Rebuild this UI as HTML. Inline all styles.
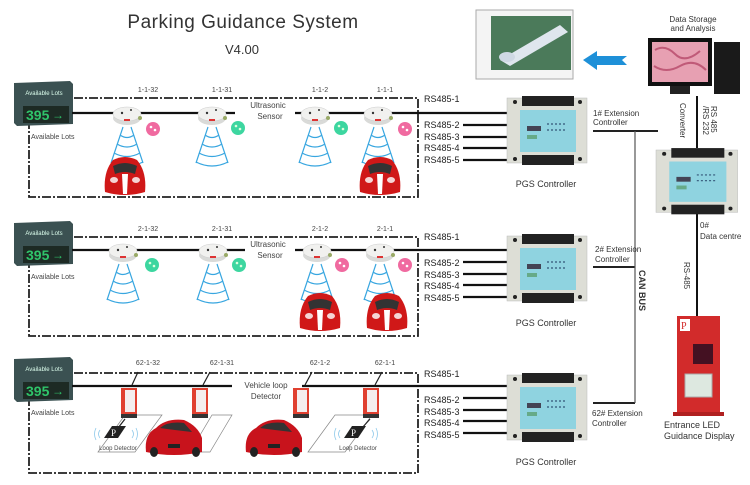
<!DOCTYPE html>
<html><head><meta charset="utf-8"><style>
html,body{margin:0;padding:0;background:#fff;}
svg{display:block;font-family:"Liberation Sans",Arial,sans-serif;}
</style></head><body>
<svg width="750" height="485" viewBox="0 0 750 485" xmlns="http://www.w3.org/2000/svg">
<defs>
  <g id="panel">
    <polygon points="14,83 70,81 73,84 73,124 17,126 14,123" fill="#3b5152"/>
    <rect x="23" y="106" width="46" height="17" fill="#1d2a24"/>
    <text x="44" y="95" font-size="6" fill="#dfe" text-anchor="middle">Available Lots</text>
    <text x="26" y="120" font-size="14" font-weight="bold" fill="#2fc46a">395</text>
    <text x="52" y="119" font-size="12" fill="#2fc46a">→</text>
    <text x="31" y="139" font-size="7" fill="#444">Available Lots</text>
  </g>
  <g id="sensor">
    <ellipse cx="0" cy="5" rx="14" ry="7" fill="#d9dad8"/>
    <ellipse cx="0" cy="1" rx="14" ry="7" fill="#f1f1ef" stroke="#ccc" stroke-width="0.5"/>
    <circle cx="-5" cy="0" r="1.2" fill="#333"/><circle cx="4" cy="-3" r="1" fill="#333"/>
    <rect x="-3" y="6" width="6" height="2" fill="#d33"/>
    <circle cx="13" cy="5" r="2" fill="#9a6"/>
  </g>
  <g id="waves" fill="none" stroke="#38a6e0" stroke-width="1.2">
    <path d="M-4,0 L-16,36 M4,0 L16,36"/>
    <path d="M-7,8 Q0,13 7,8 M-10,17 Q0,23 10,17 M-13,26 Q0,33 13,26 M-16,35 Q0,43 16,35"/>
  </g>
  <g id="ferrari">
    <path d="M-20,20 Q-22,0 -12,-12 Q0,-18 12,-12 Q22,0 20,20 Q0,26 -20,20Z" fill="#d01818"/>
    <path d="M-12,-6 Q0,-12 12,-6 L10,2 Q0,-2 -10,2Z" fill="#333"/>
    <path d="M-3,2 L3,2 L2,22 L-2,22Z" fill="#fff"/>
    <ellipse cx="-11" cy="8" rx="4" ry="3" fill="#f5d5d5"/><ellipse cx="11" cy="8" rx="4" ry="3" fill="#f5d5d5"/>
  </g>
  <g id="dotpink"><circle r="7" fill="#f06aa0"/><circle cx="-2" cy="-2" r="1.3" fill="#fff"/><circle cx="2" cy="1" r="1.3" fill="#fff"/></g>
  <g id="dotgreen"><circle r="7" fill="#3dd6a0"/><circle cx="-2" cy="-2" r="1.3" fill="#dfd"/><circle cx="2" cy="1" r="1.3" fill="#dfd"/></g>
  <g id="ctrl">
    <rect x="0" y="0" width="80" height="65" fill="#ddded6" stroke="#bbb" stroke-width="0.5"/>
    <rect x="15" y="-2" width="52" height="10" fill="#222"/>
    <rect x="15" y="57" width="52" height="10" fill="#222"/>
    <circle cx="8" cy="4" r="2" fill="#222"/><circle cx="73" cy="4" r="2" fill="#222"/>
    <circle cx="8" cy="61" r="2" fill="#222"/><circle cx="73" cy="61" r="2" fill="#222"/>
    <rect x="13" y="12" width="56" height="42" fill="#8fd3e0"/>
    <rect x="20" y="28" width="14" height="5" fill="#445"/>
    <rect x="20" y="37" width="10" height="4" fill="#6a8"/>
    <path d="M40,26 h20 M40,32 h20" stroke="#357" stroke-width="1.2" stroke-dasharray="2,2"/>
  </g>
  <g id="ctrlwires" stroke="#111" stroke-width="2.2">
    <line x1="72" y1="0" x2="507" y2="0"/>
    <line x1="463" y1="12" x2="507" y2="12"/>
    <line x1="463" y1="24" x2="507" y2="24"/>
    <line x1="463" y1="35" x2="507" y2="35"/>
    <line x1="463" y1="47" x2="507" y2="47"/>
  </g>
  <g id="rslabels" font-size="9" fill="#222">
    <text x="424" y="4">RS485-1</text>
    <text x="424" y="30">RS485-2</text>
    <text x="424" y="42">RS485-3</text>
    <text x="424" y="53">RS485-4</text>
    <text x="424" y="65">RS485-5</text>
  </g>
  <g id="loopbox">
    <rect x="-7" y="0" width="16" height="26" fill="#e04030"/>
    <rect x="-3" y="2" width="10" height="22" fill="#f4eeee"/>
    <rect x="-7" y="26" width="16" height="4" fill="#333"/>
  </g>
  <g id="car2">
    <path d="M-28,20 Q-30,2 -18,-4 Q-8,-14 10,-12 Q24,-6 28,6 L28,20 Q0,26 -28,20Z" fill="#c8131c"/>
    <path d="M-14,-4 Q-6,-11 10,-9 L18,0 Q0,-2 -14,-4Z" fill="#333"/>
    <rect x="-6" y="12" width="12" height="4" fill="#222"/>
    <ellipse cx="-20" cy="20" rx="4" ry="5" fill="#222"/><ellipse cx="22" cy="20" rx="4" ry="5" fill="#222"/>
  </g>
</defs>

<text x="243" y="28" font-size="19" fill="#333" text-anchor="middle" letter-spacing="0.5">Parking Guidance System</text>
<text x="242" y="54" font-size="13" fill="#333" text-anchor="middle">V4.00</text>

<g fill="none" stroke="#222" stroke-width="1.8" stroke-dasharray="9,2,2,2">
  <rect x="29" y="98" width="389" height="99"/>
  <rect x="29" y="237" width="389" height="99"/>
  <rect x="29" y="373" width="389" height="100"/>
</g>

<!-- Row 1 -->
<use href="#panel"/>
<use href="#ctrlwires" transform="translate(0,113)"/>
<use href="#rslabels" transform="translate(0,98)"/>
<g font-size="7" fill="#444" text-anchor="middle">
<text x="148" y="92">1-1-32</text><text x="222" y="92">1-1-31</text><text x="320" y="92">1-1-2</text><text x="385" y="92">1-1-1</text>
<text x="148" y="231">2-1-32</text><text x="222" y="231">2-1-31</text><text x="320" y="231">2-1-2</text><text x="385" y="231">2-1-1</text>
<text x="148" y="365">62-1-32</text><text x="222" y="365">62-1-31</text><text x="320" y="365">62-1-2</text><text x="385" y="365">62-1-1</text>
</g>
<rect x="235" y="100" width="60" height="26" fill="#fff"/>
<text x="268" y="108" font-size="8" fill="#444" text-anchor="middle">Ultrasonic</text>
<text x="270" y="119" font-size="8" fill="#444" text-anchor="middle">Sensor</text>
<use href="#sensor" transform="translate(127,113)"/>
<use href="#sensor" transform="translate(212,113)"/>
<use href="#sensor" transform="translate(315,113)"/>
<use href="#sensor" transform="translate(378,113)"/>
<use href="#waves" transform="translate(127,127)"/>
<use href="#waves" transform="translate(212,127)"/>
<use href="#waves" transform="translate(315,127)"/>
<use href="#waves" transform="translate(378,127)"/>
<use href="#dotpink" transform="translate(153,129)"/>
<use href="#dotgreen" transform="translate(238,128)"/>
<use href="#dotgreen" transform="translate(341,128)"/>
<use href="#dotpink" transform="translate(405,129)"/>
<use href="#ferrari" transform="translate(125,172)"/>
<use href="#ferrari" transform="translate(380,172)"/>

<!-- Row 2 -->
<use href="#panel" transform="translate(0,140)"/>
<use href="#ctrlwires" transform="translate(0,250)"/>
<use href="#rslabels" transform="translate(0,236)"/>
<rect x="245" y="239" width="50" height="26" fill="#fff"/>
<text x="268" y="247" font-size="8" fill="#444" text-anchor="middle">Ultrasonic</text>
<text x="270" y="258" font-size="8" fill="#444" text-anchor="middle">Sensor</text>
<use href="#sensor" transform="translate(123,250)"/>
<use href="#sensor" transform="translate(213,250)"/>
<use href="#sensor" transform="translate(317,250)"/>
<use href="#sensor" transform="translate(380,250)"/>
<use href="#waves" transform="translate(123,264)"/>
<use href="#waves" transform="translate(213,264)"/>
<use href="#waves" transform="translate(317,264)"/>
<use href="#waves" transform="translate(380,264)"/>
<use href="#dotgreen" transform="translate(152,265)"/>
<use href="#dotgreen" transform="translate(239,265)"/>
<use href="#dotpink" transform="translate(342,265)"/>
<use href="#dotpink" transform="translate(405,265)"/>
<use href="#ferrari" transform="translate(320,308)"/>
<use href="#ferrari" transform="translate(387,308)"/>

<!-- Row 3 -->
<use href="#panel" transform="translate(0,276)"/>
<use href="#ctrlwires" transform="translate(0,386)"/>
<use href="#rslabels" transform="translate(0,373)"/>
<rect x="232" y="378" width="70" height="26" fill="#fff"/>
<text x="266" y="388" font-size="8" fill="#444" text-anchor="middle">Vehicle loop</text>
<text x="266" y="399" font-size="8" fill="#444" text-anchor="middle">Detector</text>
<g fill="#fff" stroke="#888" stroke-width="0.7">
  <polygon points="98,452 125,415 162,415 135,452"/>
  <polygon points="308,452 335,415 372,415 345,452"/>
  <polygon points="190,452 212,415 232,415 210,452"/>
</g>
<g stroke="#222" stroke-width="1.2">
  <line x1="132" y1="385" x2="138" y2="372"/><line x1="203" y1="385" x2="210" y2="372"/>
  <line x1="305" y1="385" x2="312" y2="372"/><line x1="375" y1="385" x2="382" y2="372"/>
  <line x1="125" y1="419" x2="118" y2="428"/><line x1="370" y1="419" x2="362" y2="428"/>
</g>
<use href="#loopbox" transform="translate(128,388)"/>
<use href="#loopbox" transform="translate(199,388)"/>
<use href="#loopbox" transform="translate(300,388)"/>
<use href="#loopbox" transform="translate(370,388)"/>
<polygon points="104,438 112,426 126,426 118,438" fill="#222"/>
<text x="111" y="436" font-size="9" fill="#fff" font-family="Liberation Serif">P</text>
<polygon points="344,438 352,426 366,426 358,438" fill="#222"/>
<text x="351" y="436" font-size="9" fill="#fff" font-family="Liberation Serif">P</text>
<g fill="none" stroke="#8cc8ea" stroke-width="0.8">
  <path d="M100,430 q-3,4 0,8 M96,428 q-3,6 0,12 M132,430 q3,4 0,8 M136,428 q3,6 0,12"/>
  <path d="M340,430 q-3,4 0,8 M336,428 q-3,6 0,12 M372,430 q3,4 0,8 M376,428 q3,6 0,12"/>
</g>
<text x="118" y="450" font-size="6" fill="#444" text-anchor="middle">Loop Detector</text>
<text x="358" y="450" font-size="6" fill="#444" text-anchor="middle">Loop Detector</text>
<use href="#car2" transform="translate(174,432)"/>
<use href="#car2" transform="translate(274,432)"/>

<!-- Controllers -->
<use href="#ctrl" transform="translate(507,98)"/>
<use href="#ctrl" transform="translate(507,236)"/>
<use href="#ctrl" transform="translate(507,375)"/>
<g font-size="9" fill="#333" text-anchor="middle">
<text x="546" y="187">PGS Controller</text>
<text x="546" y="326">PGS Controller</text>
<text x="546" y="465">PGS Controller</text>
</g>

<!-- Extension / CAN -->
<g stroke="#222" stroke-width="2"><line x1="593" y1="131" x2="658" y2="131"/><line x1="593" y1="267" x2="635" y2="267"/><line x1="593" y1="403" x2="635" y2="403"/></g>
<line x1="635" y1="131" x2="635" y2="403" stroke="#555" stroke-width="1.2"/>
<g font-size="8" fill="#333">
<text x="593" y="116">1#   Extension</text><text x="593" y="125">Controller</text>
<text x="595" y="252">2#   Extension</text><text x="595" y="262">Controller</text>
<text x="592" y="416">62#  Extension</text><text x="592" y="426">Controller</text>
</g>
<text transform="translate(639,270) rotate(90)" font-size="9" font-weight="bold" fill="#333">CAN  BUS</text>

<!-- Data centre -->
<line x1="697" y1="96" x2="697" y2="148" stroke="#111" stroke-width="2"/>
<line x1="697" y1="212" x2="697" y2="316" stroke="#111" stroke-width="2"/>
<use href="#ctrl" transform="translate(656,150) scale(1.02,0.96)"/>
<text transform="translate(680,103) rotate(90)" font-size="8" fill="#333">Converter</text>
<text transform="translate(711,106) rotate(90)" font-size="8" fill="#333">RS 485</text>
<text transform="translate(703,106) rotate(90)" font-size="8" fill="#333">/RS 232</text>
<text x="700" y="228" font-size="8" fill="#333">0#</text>
<text x="700" y="239" font-size="8" fill="#333">Data centre</text>
<text transform="translate(684,262) rotate(90)" font-size="8" fill="#333">RS-485</text>

<!-- Entrance display -->
<rect x="677" y="316" width="43" height="96" fill="#d22b2b"/>
<rect x="673" y="412" width="51" height="4" fill="#b02020"/>
<rect x="680" y="319" width="10" height="12" fill="#fff"/>
<text x="681" y="329" font-size="10" fill="#d22b2b" font-family="Liberation Serif">P</text>
<rect x="693" y="344" width="20" height="20" fill="#412"/>
<rect x="685" y="374" width="27" height="23" fill="#dde8e0" stroke="#aaa"/>
<text x="664" y="428" font-size="9" fill="#333">Entrance LED</text>
<text x="664" y="439" font-size="9" fill="#333">Guidance Display</text>

<!-- Computer -->
<rect x="648" y="38" width="64" height="48" fill="#111"/>
<rect x="652" y="42" width="56" height="40" fill="#e7a0b2"/>
<path d="M655,50 q10,-6 20,4 t25,-3 M654,66 q12,8 26,0 t26,4" stroke="#c05a78" fill="none" stroke-width="2"/>
<rect x="670" y="86" width="20" height="8" fill="#222"/>
<rect x="714" y="42" width="26" height="52" fill="#1a1a1a"/>
<text x="693" y="22" font-size="8" fill="#333" text-anchor="middle">Data Storage</text>
<text x="693" y="31" font-size="8" fill="#333" text-anchor="middle">and Analysis</text>

<!-- Screen -->
<rect x="476" y="10" width="97" height="69" fill="#f4f4f4" stroke="#aaa"/>
<rect x="491" y="16" width="80" height="54" fill="#4b7a5a"/>
<path d="M500,60 L560,25 L568,32 L510,66Z" fill="#dfe6ee"/>
<ellipse cx="507" cy="57" rx="8" ry="5" fill="#cfd8e4"/>
<polygon points="583,60 597,51 597,56 627,56 622,60 627,65 597,65 597,70" fill="#1e90d8"/>
</svg>
</body></html>
